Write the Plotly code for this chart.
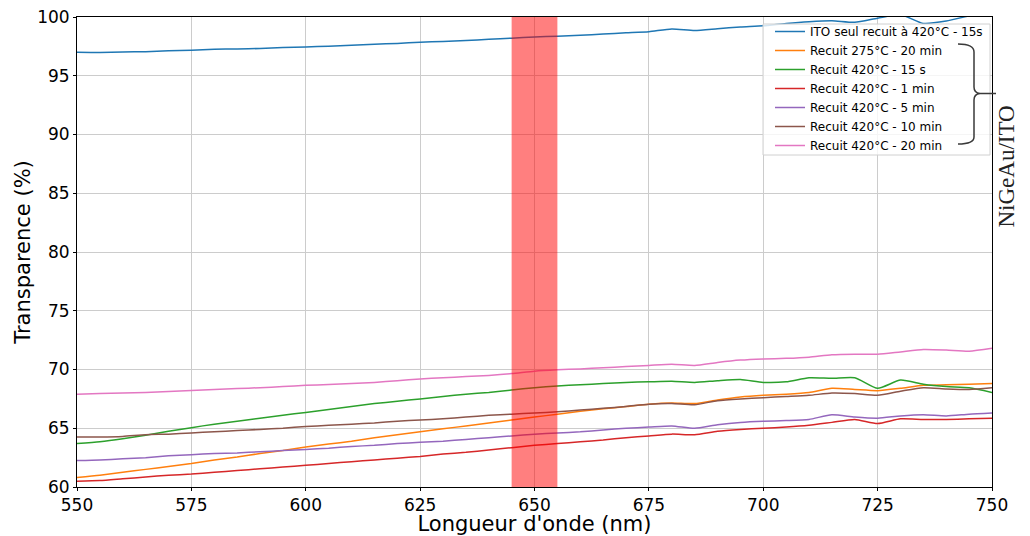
import plotly.graph_objects as go

wavelength = list(range(550, 751, 5))

ito_seul = [97.0, 96.98, 97.02, 97.05, 97.12, 97.18, 97.25, 97.28, 97.32, 97.4,
            97.45, 97.52, 97.6, 97.68, 97.75, 97.85, 97.92, 98.0, 98.1, 98.2,
            98.3, 98.37, 98.45, 98.55, 98.65, 98.75, 98.98, 98.85, 99.0, 99.15,
            99.25, 99.45, 99.6, 99.68, 99.55, 99.9, 100.2, 99.45, 99.65, 100.1, 100.5]

r275_20min = [60.8, 61.0, 61.25, 61.5, 61.75, 62.0, 62.3, 62.55, 62.85, 63.1,
              63.4, 63.65, 63.9, 64.2, 64.45, 64.7, 64.95, 65.2, 65.45, 65.7,
              65.95, 66.2, 66.45, 66.65, 66.85, 67.05, 67.15, 67.1, 67.4, 67.65,
              67.8, 67.9, 68.05, 68.4, 68.3, 68.2, 68.4, 68.65, 68.7, 68.75, 68.8]

r420_15s = [63.7, 63.85, 64.1, 64.4, 64.75, 65.05, 65.35, 65.6, 65.85, 66.1,
            66.35, 66.6, 66.85, 67.1, 67.3, 67.5, 67.7, 67.9, 68.05, 68.25,
            68.45, 68.6, 68.7, 68.8, 68.9, 68.95, 69.0, 68.9, 69.05, 69.15,
            68.9, 68.95, 69.3, 69.25, 69.3, 68.4, 69.1, 68.75, 68.55, 68.45, 68.05]

r420_1min = [60.5, 60.55, 60.7, 60.85, 61.0, 61.1, 61.25, 61.4, 61.55, 61.7,
             61.85, 62.0, 62.15, 62.3, 62.45, 62.6, 62.8, 62.95, 63.15, 63.35,
             63.55, 63.7, 63.85, 64.0, 64.2, 64.35, 64.5, 64.45, 64.75, 64.9,
             65.0, 65.1, 65.25, 65.5, 65.75, 65.4, 65.8, 65.75, 65.75, 65.8, 65.85]

r420_5min = [62.25, 62.3, 62.4, 62.5, 62.65, 62.75, 62.85, 62.9, 63.0, 63.1,
             63.2, 63.3, 63.45, 63.55, 63.7, 63.8, 63.9, 64.05, 64.2, 64.35,
             64.5, 64.6, 64.7, 64.85, 65.0, 65.1, 65.2, 65.0, 65.3, 65.5,
             65.6, 65.65, 65.75, 66.15, 65.95, 65.85, 66.05, 66.15, 66.05, 66.2, 66.3]

r420_10min = [64.25, 64.25, 64.3, 64.45, 64.5, 64.6, 64.7, 64.8, 64.9, 65.0,
              65.15, 65.25, 65.35, 65.45, 65.6, 65.7, 65.8, 65.95, 66.1, 66.2,
              66.3, 66.4, 66.55, 66.7, 66.85, 67.05, 67.1, 67.0, 67.35, 67.5,
              67.6, 67.7, 67.8, 68.0, 67.95, 67.8, 68.15, 68.45, 68.35, 68.3, 68.45]

r420_20min = [67.9, 67.95, 68.0, 68.05, 68.12, 68.22, 68.3, 68.38, 68.45, 68.55,
              68.65, 68.72, 68.8, 68.9, 69.05, 69.2, 69.3, 69.4, 69.5, 69.65,
              69.85, 69.97, 70.05, 70.15, 70.25, 70.35, 70.45, 70.35, 70.6, 70.8,
              70.9, 70.95, 71.05, 71.25, 71.3, 71.3, 71.5, 71.7, 71.65, 71.55, 71.8]

labels = ["ITO seul recuit à 420°C - 15s", "Recuit 275°C - 20 min", "Recuit 420°C - 15 s",
          "Recuit 420°C - 1 min", "Recuit 420°C - 5 min", "Recuit 420°C - 10 min",
          "Recuit 420°C - 20 min"]
series = [ito_seul, r275_20min, r420_15s, r420_1min, r420_5min, r420_10min, r420_20min]
colors = ["#1f77b4", "#ff7f0e", "#2ca02c", "#d62728", "#9467bd", "#8c564b", "#e377c2"]

band = [645, 655]
x_ticks = [550, 575, 600, 625, 650, 675, 700, 725, 750]
y_ticks = [60, 65, 70, 75, 80, 85, 90, 95, 100]

W, H = 1030, 536
ML, MR, MT, MB = 77, 38, 17, 49
PW, PH = W - ML - MR, H - MT - MB


def px(xp, yp):
    """page pixel -> paper coords"""
    return (xp - ML) / PW, 1 - (yp - MT) / PH


fig = go.Figure()
for name, vals, col in zip(labels, series, colors):
    fig.add_trace(go.Scatter(x=wavelength, y=vals, mode="lines", name=name,
                             line=dict(color=col, width=1.5, shape="spline", smoothing=0.6)))

fig.add_vrect(x0=band[0], x1=band[1], fillcolor="rgba(255,0,0,0.5)", line_width=0, layer="above")

# legend frame (drawn as a shape so the brace can sit on top of it)
bx0, by0 = px(763, 24)
bx1, by1 = px(990, 155)
fig.add_shape(type="rect", xref="paper", yref="paper", x0=bx0, y0=by0, x1=bx1, y1=by1,
              fillcolor="rgba(255,255,255,0.8)", line=dict(color="#d0d0d0", width=1), layer="above")

# brace
pts = [(958, 44), (974, 44), (974, 52), (974, 87), (974, 93), (980, 93.5), (996, 93.5),
       (980, 93.5), (974, 94), (974, 100), (974, 137), (974, 144), (958, 144)]
P = [px(a, b) for a, b in pts]
path = ("M {0[0]} {0[1]} Q {1[0]} {1[1]} {2[0]} {2[1]} L {3[0]} {3[1]} Q {4[0]} {4[1]} {5[0]} {5[1]} "
        "L {6[0]} {6[1]} M {7[0]} {7[1]} Q {8[0]} {8[1]} {9[0]} {9[1]} L {10[0]} {10[1]} "
        "Q {11[0]} {11[1]} {12[0]} {12[1]}").format(*P)
fig.add_shape(type="path", path=path, xref="paper", yref="paper", layer="above",
              line=dict(color="#3a3a3a", width=1.5))

tx, ty = px(1020, 104)
fig.add_annotation(x=tx, y=ty, xref="paper", yref="paper", text="NiGeAu/ITO", textangle=-90,
                   showarrow=False, font=dict(family="Liberation Serif", size=23, color="#222222"))

axis_common = dict(showline=True, mirror=True, linecolor="black", linewidth=1,
                   ticks="outside", ticklen=3, tickcolor="black", showgrid=True,
                   gridcolor="#cccccc", gridwidth=1, zeroline=False,
                   tickfont=dict(size=17, color="black"))

fig.update_xaxes(range=[550, 750], tickvals=x_ticks, **axis_common,
                 title=dict(text="Longueur d'onde (nm)", font=dict(size=21, color="black"), standoff=6))
fig.update_yaxes(range=[60, 100], tickvals=y_ticks, **axis_common,
                 title=dict(text="Transparence (%)", font=dict(size=21, color="black"), standoff=0))

lx, ly = px(988, 17)
fig.update_layout(
    width=W, height=H,
    margin=dict(l=ML, r=MR, t=MT, b=MB, autoexpand=False),
    paper_bgcolor="white", plot_bgcolor="white",
    font=dict(family="DejaVu Sans", color="black"),
    showlegend=True,
    legend=dict(x=lx, y=ly, xanchor="right", yanchor="top",
                bgcolor="rgba(0,0,0,0)", borderwidth=0,
                font=dict(size=12, color="black"), tracegroupgap=0, itemwidth=30),
)

fig.write_html("out.html", config={"displayModeBar": False},
               post_script="document.body.style.margin='0';")
